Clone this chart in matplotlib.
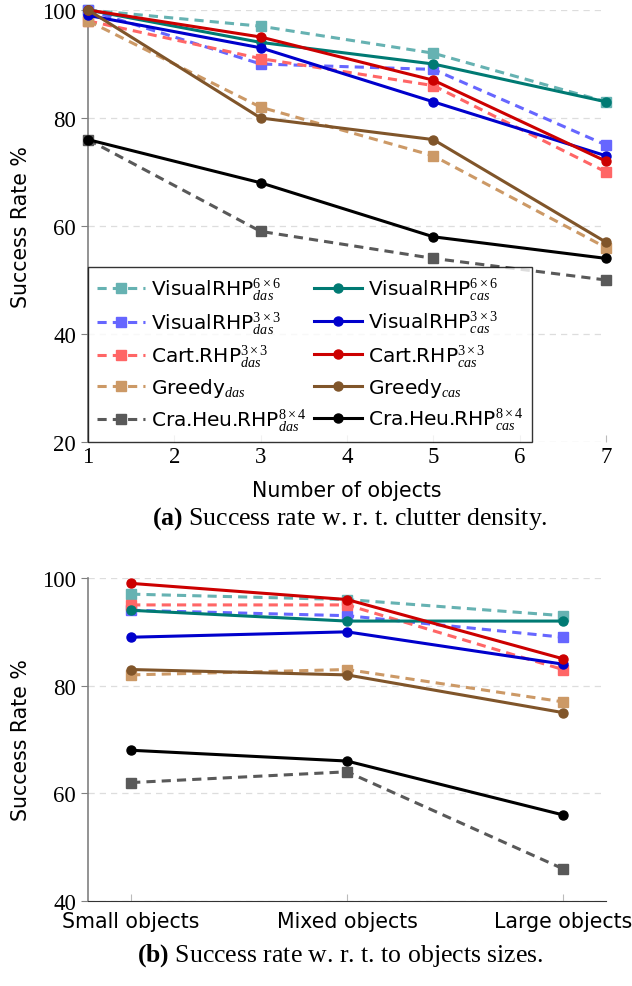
import numpy as np
import matplotlib
matplotlib.use("Agg")
import matplotlib.pyplot as plt

plt.rcParams['font.family'] = ['DejaVu Sans']
plt.rcParams['mathtext.fontset'] = 'custom'
plt.rcParams['mathtext.rm'] = 'Liberation Serif'
plt.rcParams['mathtext.it'] = 'Liberation Serif:italic'
plt.rcParams['mathtext.bf'] = 'Liberation Serif:bold'

# ---- (a) clutter density ----
n_objects = [1, 3, 5, 7]
vis66_das = [100, 97, 92, 83]
vis66_cas = [100, 94, 90, 83]
vis33_das = [100, 90, 89, 75]
vis33_cas = [99, 93, 83, 73]
cart_das = [98, 91, 86, 70]
cart_cas = [100, 95, 87, 72]
greedy_das = [98, 82, 73, 56]
greedy_cas = [100, 80, 76, 57]
cra_das = [76, 59, 54, 50]
cra_cas = [76, 68, 58, 54]

# ---- (b) object sizes ----
sizes = ["Small objects", "Mixed objects", "Large objects"]
s_vis66_das = [97, 96, 93]
s_vis66_cas = [94, 92, 92]
s_vis33_das = [94, 93, 89]
s_vis33_cas = [89, 90, 84]
s_cart_das = [95, 95, 83]
s_cart_cas = [99, 96, 85]
s_greedy_das = [82, 83, 77]
s_greedy_cas = [83, 82, 75]
s_cra_das = [62, 64, 46]
s_cra_cas = [68, 66, 56]

labels_das = [r"VisualRHP$^{6\times6}_{das}$", r"VisualRHP$^{3\times3}_{das}$",
              r"Cart.RHP$^{3\times3}_{das}$", r"Greedy$_{das}$",
              r"Cra.Heu.RHP$^{8\times4}_{das}$"]
labels_cas = [r"VisualRHP$^{6\times6}_{cas}$", r"VisualRHP$^{3\times3}_{cas}$",
              r"Cart.RHP$^{3\times3}_{cas}$", r"Greedy$_{cas}$",
              r"Cra.Heu.RHP$^{8\times4}_{cas}$"]
colors_das = ['#66b2b2', '#6666ff', '#ff6666', '#cc9966', '#595959']
colors_cas = ['#007a73', '#0000cc', '#cc0000', '#80552a', '#000000']

serif = 'Liberation Serif'
grid_col = '#dddddd'
axis_col = '#808080'


def style_axes(ax):
    for s in ['top', 'right']:
        ax.spines[s].set_visible(False)
    ax.spines['left'].set_color(axis_col)
    ax.spines['left'].set_linewidth(1.2)
    ax.yaxis.grid(True, linestyle=(0, (5, 4)), color=grid_col, linewidth=0.9)
    ax.set_axisbelow(True)
    ax.tick_params(axis='y', direction='out', length=5, color=axis_col, width=0.8)
    ax.tick_params(axis='x', direction='in', length=5, color='#bbbbbb', width=0.8)
    for lab in ax.get_yticklabels():
        lab.set_fontfamily(serif)
        lab.set_fontsize(16.5)


def draw(ax, x, das, cas):
    handles = []
    for vals, c in zip(das, colors_das):
        h, = ax.plot(x, vals, linestyle=(0, (3, 2)), color=c, lw=2.2,
                     marker='s', markersize=7.5, clip_on=False, zorder=3)
        handles.append(h)
    for vals, c in zip(cas, colors_cas):
        h, = ax.plot(x, vals, linestyle='-', color=c, lw=2.2,
                     marker='o', markersize=6.5, clip_on=False, zorder=4)
        handles.append(h)
    return handles


fig = plt.figure(figsize=(6.32, 9.87), dpi=100)

ax1 = fig.add_axes([88 / 632, 1 - 443 / 987, 518 / 632, 432 / 987])
h = draw(ax1, n_objects,
         [vis66_das, vis33_das, cart_das, greedy_das, cra_das],
         [vis66_cas, vis33_cas, cart_cas, greedy_cas, cra_cas])
ax1.set_xlim(1, 7)
ax1.set_ylim(20, 100)
ax1.set_yticks([20, 40, 60, 80, 100])
ax1.set_xticks(range(1, 8))
style_axes(ax1)
ax1.spines['bottom'].set_visible(False)
for lab in ax1.get_xticklabels():
    lab.set_fontfamily(serif)
    lab.set_fontsize(16.5)
ax1.tick_params(axis='x', pad=3)
ax1.set_xlabel("Number of objects", fontsize=14.8, labelpad=9)
ax1.set_ylabel("Success Rate %", fontsize=14.8, labelpad=8)
leg = ax1.legend(h, labels_das + labels_cas, ncol=2, loc='lower left',
                 bbox_to_anchor=(0, 0), fontsize=14.5, frameon=True,
                 fancybox=False, borderaxespad=0, handlelength=2.4,
                 columnspacing=0.35, handletextpad=0.3, labelspacing=0.35,
                 borderpad=0.45)
leg.get_frame().set_edgecolor('black')
leg.get_frame().set_linewidth(1.0)
leg.set_zorder(10)

fig.text(350 / 632, 1 - 519 / 987, r"$\mathbf{(a)}$ Success rate w. r. t. clutter density.",
         ha='center', va='center', fontsize=18.5, family=serif)

ax2 = fig.add_axes([88 / 632, 1 - 902 / 987, 518 / 632, 323 / 987])
x2 = np.arange(len(sizes))
draw(ax2, x2,
     [s_vis66_das, s_vis33_das, s_cart_das, s_greedy_das, s_cra_das],
     [s_vis66_cas, s_vis33_cas, s_cart_cas, s_greedy_cas, s_cra_cas])
ax2.set_xlim(-0.2, 2.2)
ax2.set_ylim(40, 100)
ax2.set_yticks([40, 60, 80, 100])
ax2.set_xticks(x2)
ax2.set_xticklabels(sizes, fontsize=14.8)
style_axes(ax2)
ax2.spines['bottom'].set_color('#333333')
ax2.tick_params(axis='x', pad=7)
ax2.set_ylabel("Success Rate %", fontsize=14.8, labelpad=8)

fig.text(340 / 632, 1 - 956 / 987, r"$\mathbf{(b)}$ Success rate w. r. t. to objects sizes.",
         ha='center', va='center', fontsize=18.5, family=serif)

fig.savefig("out.png", dpi=100)
